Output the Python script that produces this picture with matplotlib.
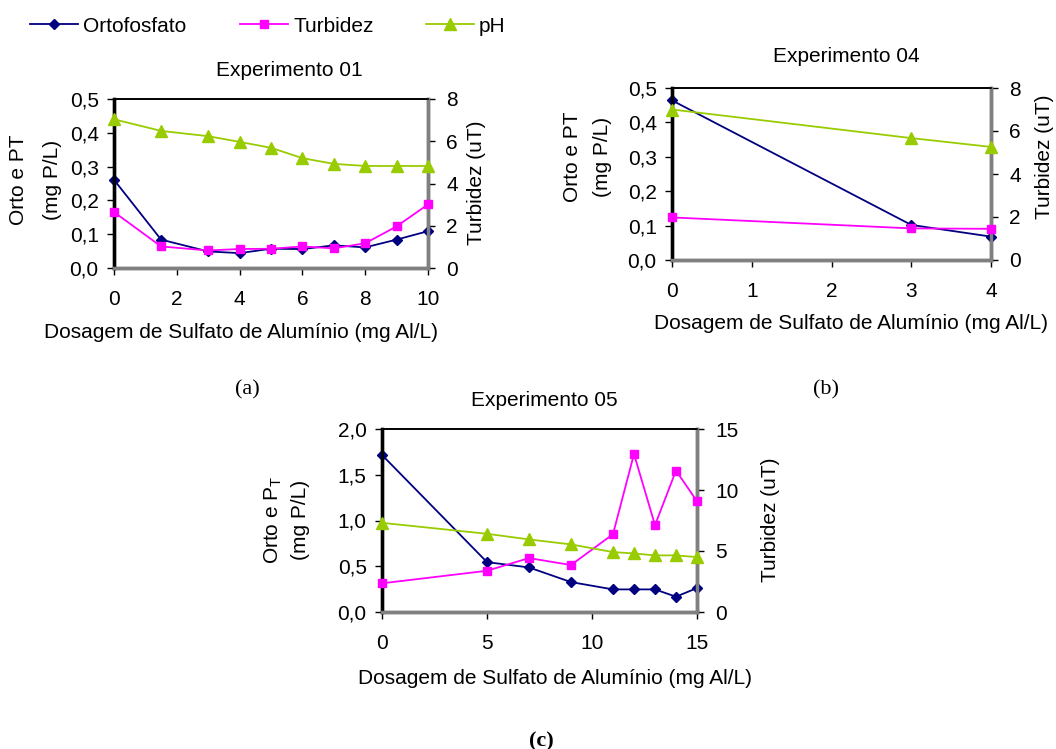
import matplotlib
matplotlib.use("Agg")
import matplotlib.pyplot as plt
from matplotlib.lines import Line2D

plt.rcParams['font.family'] = ['Liberation Sans', 'DejaVu Sans']

# ---------------- data ----------------
exp01_x = [0, 1.5, 3, 4, 5, 6, 7, 8, 9, 10]
exp01_orto = [0.261, 0.084, 0.049, 0.044, 0.057, 0.056, 0.067, 0.061, 0.084, 0.109]
exp01_turb = [2.65, 1.02, 0.83, 0.90, 0.91, 1.02, 0.93, 1.17, 1.97, 3.01]
exp01_ph = [7.04, 6.49, 6.24, 5.97, 5.69, 5.20, 4.93, 4.83, 4.83, 4.83]

exp04_x = [0, 3, 4]
exp04_orto = [0.464, 0.102, 0.068]
exp04_turb = [1.98, 1.47, 1.45]
exp04_ph = [7.00, 5.67, 5.26]

exp05_x = [0, 5, 7, 9, 11, 12, 13, 14, 15]
exp05_orto = [1.716, 0.545, 0.487, 0.327, 0.247, 0.247, 0.247, 0.167, 0.262]
exp05_turb = [2.35, 3.38, 4.42, 3.85, 6.38, 12.95, 7.12, 11.59, 9.08]
exp05_ph = [7.31, 6.41, 5.95, 5.54, 4.91, 4.80, 4.64, 4.64, 4.50]

series_names = ["Ortofosfato", "Turbidez", "pH"]
titles = ["Experimento 01", "Experimento 04", "Experimento 05"]
xlabel = "Dosagem de Sulfato de Alumínio (mg Al/L)"
left_label_1 = ["Orto e PT", "Orto e PT", "Orto e P$_\\mathregular{T}$"]
left_label_2 = "(mg P/L)"
right_label = "Turbidez (uT)"
captions = ["(a)", "(b)", "(c)"]

C_ORTO = "#000080"
C_TURB = "#FF00FF"
C_PH = "#99CC00"
FS = 15

fig = plt.figure(figsize=(10.56, 7.49), dpi=100)
W, H = 1056, 749


def rect(x0, y0, x1, y1):
    return [x0 / W, 1 - y1 / H, (x1 - x0) / W, (y1 - y0) / H]


def fx(px):
    return px / W


def fy(py):
    return 1 - py / H


def fmt_comma(v):
    return ("%.1f" % v).replace(".", ",")


MK = dict(orto=dict(marker="D", ms=5), turb=dict(marker="s", ms=5.5), ph=dict(marker="^", ms=9))


def make(r, x, orto, turb, ph, xlim, xticks, ylim, yticks, y2lim, y2ticks):
    ax = fig.add_axes(r)
    ax2 = ax.twinx()
    ax.plot(x, orto, color=C_ORTO, lw=1.3, zorder=3, clip_on=False, **MK["orto"])
    ax2.plot(x, turb, color=C_TURB, lw=1.3, zorder=3, clip_on=False, **MK["turb"])
    ax2.plot(x, ph, color=C_PH, lw=1.3, zorder=3, clip_on=False, **MK["ph"])
    ax.set_xlim(*xlim)
    ax.set_ylim(*ylim)
    ax2.set_ylim(*y2lim)
    ax.set_xticks(xticks)
    ax.set_xticklabels([str(v) for v in xticks])
    ax.set_yticks(yticks)
    ax.set_yticklabels([fmt_comma(v) for v in yticks])
    ax2.set_yticks(y2ticks)
    ax2.set_yticklabels([str(v) for v in y2ticks])
    for a in (ax, ax2):
        a.tick_params(labelsize=FS, length=5, width=1, direction="out")
        for s in a.spines.values():
            s.set_linewidth(1.2)
            s.set_color("black")
        a.spines["left"].set_linewidth(2.4)
        a.spines["right"].set_color("#808080")
        a.spines["right"].set_linewidth(2.5)
        a.spines["bottom"].set_color("#808080")
        a.spines["bottom"].set_linewidth(2.5)
    ax.tick_params(axis="y", pad=6)
    ax.tick_params(axis="x", pad=11)
    ax2.tick_params(axis="y", pad=8)
    return ax, ax2


make(rect(114, 99, 428, 268), exp01_x, exp01_orto, exp01_turb, exp01_ph,
     (0, 10), [0, 2, 4, 6, 8, 10], (0, 0.5), [0, 0.1, 0.2, 0.3, 0.4, 0.5],
     (0, 8), [0, 2, 4, 6, 8])
make(rect(672, 88, 991, 260), exp04_x, exp04_orto, exp04_turb, exp04_ph,
     (0, 4), [0, 1, 2, 3, 4], (0, 0.5), [0, 0.1, 0.2, 0.3, 0.4, 0.5],
     (0, 8), [0, 2, 4, 6, 8])
make(rect(382, 429, 697, 612), exp05_x, exp05_orto, exp05_turb, exp05_ph,
     (0, 15), [0, 5, 10, 15], (0, 2.0), [0, 0.5, 1.0, 1.5, 2.0],
     (0, 15), [0, 5, 10, 15])

# titles
for (px, py), t in zip([(289, 71), (846, 57), (544, 400)], titles):
    fig.text(fx(px), fy(py), t, ha="center", va="center", fontsize=FS)

# left y labels (two lines each)
for (x1, x2, py), l1 in zip([(19, 52, 180), (572, 603, 157), (273, 300, 520)], left_label_1):
    fig.text(fx(x1), fy(py), l1, rotation=90, ha="center", va="center", fontsize=FS)
    fig.text(fx(x2), fy(py), left_label_2, rotation=90, ha="center", va="center", fontsize=FS)

# right labels
for px, py in [(477, 183), (1045, 157), (770, 520)]:
    fig.text(fx(px), fy(py), right_label, rotation=90, ha="center", va="center", fontsize=FS)

# x labels
for px, py in [(241, 332), (851, 323), (555, 678)]:
    fig.text(fx(px), fy(py), xlabel, ha="center", va="center", fontsize=FS)

# captions
fig.text(fx(247), fy(390), captions[0], ha="center", va="center", fontsize=16,
         family="Liberation Serif")
fig.text(fx(826), fy(390), captions[1], ha="center", va="center", fontsize=16,
         family="Liberation Serif")
fig.text(fx(541), fy(741), captions[2], ha="center", va="center", fontsize=16,
         family="Liberation Serif", fontweight="bold")

# legend (one entry per position)
handles = [Line2D([], [], color=C_ORTO, lw=1.3, **MK["orto"]),
           Line2D([], [], color=C_TURB, lw=1.3, **MK["turb"]),
           Line2D([], [], color=C_PH, lw=1.3, **MK["ph"])]
for h, name, px in zip(handles, series_names, [30, 240, 426]):
    fig.legend([h], [name], loc="center left", bbox_to_anchor=(fx(px), fy(26)),
               frameon=False, fontsize=FS, handlelength=2.3, handletextpad=0.25,
               borderpad=0, borderaxespad=0)

fig.savefig("out.png", dpi=100)
